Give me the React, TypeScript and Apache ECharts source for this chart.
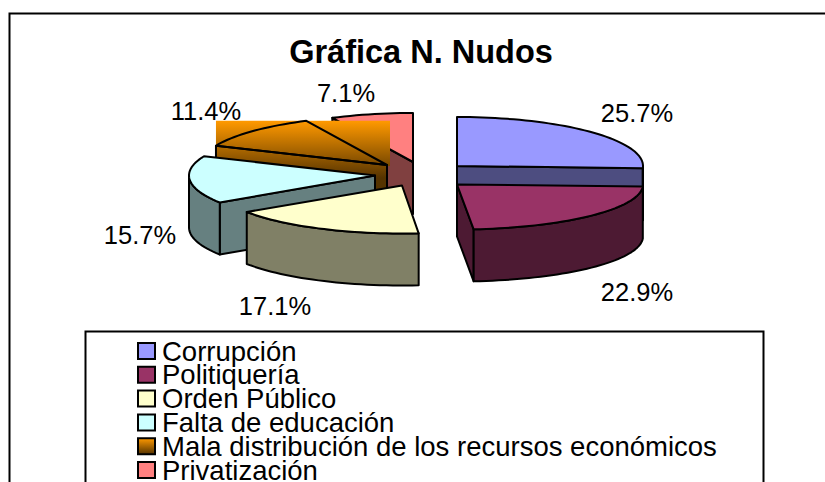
import React, { useEffect, useRef } from "react";
import * as echarts from "echarts";

const categories = [
  "Corrupción",
  "Politiquería",
  "Orden Público",
  "Falta de educación",
  "Mala distribución de los recursos económicos",
  "Privatización",
];
const values = [18, 16, 12, 11, 8, 5];
const drawOrder = [5, 4, 3, 2, 0, 1];

const topColors = ["#9999ff", "#993366", "#ffffcc", "#ccffff", "#ff9900", "#ff8080"];
const sideColors = ["#4d4d80", "#4d1a33", "#808066", "#668080", "#5c3700", "#804040"];
const sliceCentres = [
  [457, 166],
  [457, 184.5],
  [402, 185.5],
  [375, 175.5],
  [387, 165],
  [413, 162],
];
const sliceRadiusY = [49, 45, 48, 49, 49, 49];
const labelPositions = [
  [637, 113],
  [637, 292],
  [275, 306],
  [140, 235],
  [206, 111],
  [346, 93],
];

const RX = 186;
const DEPTH = 52;
const LINE = 2;
const total = values.reduce((a, b) => a + b, 0);

const angleOf = (index: number) =>
  (values.slice(0, index).reduce((a, b) => a + b, 0) / total) * 360;

const rimPoint = (c: number[], ry: number, deg: number) => {
  const r = (deg * Math.PI) / 180;
  return [c[0] + RX * Math.sin(r), c[1] - ry * Math.cos(r)];
};
const arcPoints = (c: number[], ry: number, a0: number, a1: number) => {
  const pts: number[][] = [];
  const n = Math.max(2, Math.ceil((a1 - a0) / 2));
  for (let k = 0; k <= n; k++) pts.push(rimPoint(c, ry, a0 + ((a1 - a0) * k) / n));
  return pts;
};
const down = (p: number[]) => [p[0], p[1] + DEPTH];

function orangeGradient() {
  return new echarts.graphic.LinearGradient(
    0,
    121,
    0,
    178,
    [
      { offset: 0, color: "#ff9900" },
      { offset: 1, color: "#553300" },
    ],
    true
  );
}

function makeRenderItem(i: number) {
  return () => {
    const c = sliceCentres[i];
    const ry = sliceRadiusY[i];
    const a0 = angleOf(i);
    const a1 = angleOf(i + 1);
    const arc = arcPoints(c, ry, a0, a1);
    const isGradient = i === 4;
    const stroke = { stroke: "#000", lineWidth: LINE, lineJoin: "round" };
    const children: any[] = [];

    const wall = (deg: number, fill: any) => {
      const p = rimPoint(c, ry, deg);
      children.push({
        type: "polygon",
        shape: { points: [c, p, down(p), down(c)] },
        style: { fill, ...stroke },
      });
    };
    const sideFill = isGradient ? orangeGradient() : sideColors[i];

    if (isGradient) {
      const xs = arc.map((p) => p[0]);
      const ys = arc.map((p) => p[1]);
      const minX = Math.min(...xs);
      const minY = Math.min(...ys);
      children.push({
        type: "rect",
        shape: { x: minX, y: minY, width: c[0] + 3 - minX, height: c[1] + 1 - minY },
        style: { fill: orangeGradient() },
      });
    }
    if (a0 > 180) wall(a0, sideFill);
    if (a1 < 180) wall(a1, sideFill);
    const r0 = Math.max(a0, 90);
    const r1 = Math.min(a1, 270);
    if (r1 > r0) {
      const rim = arcPoints(c, ry, r0, r1);
      children.push({
        type: "polygon",
        shape: { points: [...rim, ...rim.slice().reverse().map(down)] },
        style: { fill: sideFill, ...stroke },
      });
    }
    children.push({
      type: "polygon",
      shape: { points: [c, ...arc] },
      style: { fill: isGradient ? "transparent" : topColors[i], ...stroke },
    });
    children.push({
      type: "text",
      z2: 100,
      style: {
        x: labelPositions[i][0],
        y: labelPositions[i][1],
        text: ((values[i] / total) * 100).toFixed(1) + "%",
        fontFamily: "Liberation Sans",
        fontSize: 25.5,
        fill: "#000",
        align: "center",
        verticalAlign: "middle",
      },
    });
    return { type: "group", children };
  };
}

export default function App() {
  const ref = useRef<HTMLDivElement>(null);
  useEffect(() => {
    document.body.style.margin = "0";
    const chart = echarts.init(ref.current!, null, { renderer: "svg" });
    chart.setOption({
      animation: false,
      backgroundColor: "#fff",
      title: {
        text: "Gráfica N. Nudos",
        left: 421,
        top: 30,
        textAlign: "center",
        textStyle: {
          fontFamily: "Liberation Sans",
          fontWeight: "bold",
          fontSize: 32.5,
          color: "#000",
        },
        padding: [5, 10, 5, 0],
      },
      legend: {
        data: categories,
        orient: "vertical",
        left: 137,
        top: 337,
        height: 200,
        padding: 0,
        itemWidth: 17,
        itemHeight: 16,
        itemGap: -4.2,
        icon: "rect",
        selectedMode: false,
        textStyle: {
          fontFamily: "Liberation Sans",
          fontSize: 27.5,
          color: "#000",
          padding: [0, 0, 0, 2],
        },
      },
      graphic: [
        {
          type: "polyline",
          z: 50,
          shape: { points: [[9.5, 482], [9.5, 13.5], [825, 13.5]] },
          style: { fill: "none", stroke: "#000", lineWidth: 2 },
        },
        {
          type: "polyline",
          z: 50,
          shape: { points: [[85.5, 482], [85.5, 331.5], [763.5, 331.5], [763.5, 482]] },
          style: { fill: "none", stroke: "#000", lineWidth: 2 },
        },
      ],
      series: categories.map((name, i) => ({
        type: "custom",
        name,
        coordinateSystem: "none",
        z: 2 + drawOrder.indexOf(i),
        silent: true,
        data: [[values[i]]],
        itemStyle: {
          color:
            i === 4
              ? new echarts.graphic.LinearGradient(0, 0, 0, 1, [
                  { offset: 0, color: "#ff9900" },
                  { offset: 1, color: "#553300" },
                ])
              : topColors[i],
          borderColor: "#000",
          borderWidth: 1.5,
        },
        renderItem: makeRenderItem(i),
      })),
    });
    return () => chart.dispose();
  }, []);
  return (
    <div
      ref={ref}
      style={{ position: "absolute", left: 0, top: 0, width: 825, height: 482 }}
    />
  );
}
